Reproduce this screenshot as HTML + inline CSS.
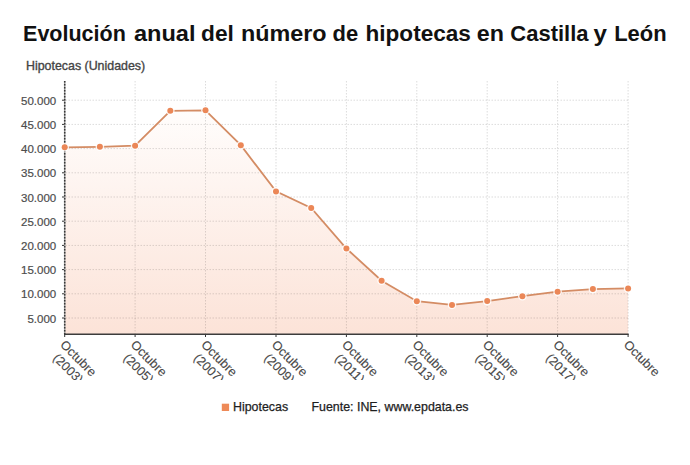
<!DOCTYPE html>
<html><head><meta charset="utf-8"><style>
html,body{margin:0;padding:0;background:#fff;}
body{width:690px;height:465px;overflow:hidden;position:relative;font-family:"Liberation Sans",Arial,sans-serif;}
svg{position:absolute;left:0;top:0;font-family:"Liberation Sans",Arial,sans-serif;}
</style></head><body>
<svg width="690" height="465" viewBox="0 0 690 465">
<defs>
<linearGradient id="g" x1="0" y1="0" x2="0" y2="1">
<stop offset="0" stop-color="#fffdfc"/>
<stop offset="1" stop-color="#fce3d8"/>
</linearGradient>
<clipPath id="lc"><rect x="0" y="335" width="690" height="45"/></clipPath>
</defs>
<g font-size="22.6" font-weight="bold" fill="#111"><text x="23.05" y="40.7" textLength="102.78" lengthAdjust="spacingAndGlyphs">Evolución</text><text x="133.9" y="40.7" textLength="61.56" lengthAdjust="spacingAndGlyphs">anual</text><text x="201.1" y="40.7" textLength="32.77" lengthAdjust="spacingAndGlyphs">del</text><text x="240.97" y="40.7" textLength="85.62" lengthAdjust="spacingAndGlyphs">número</text><text x="332.53" y="40.7" textLength="25.64" lengthAdjust="spacingAndGlyphs">de</text><text x="365.5" y="40.7" textLength="105.37" lengthAdjust="spacingAndGlyphs">hipotecas</text><text x="476.87" y="40.7" textLength="27.15" lengthAdjust="spacingAndGlyphs">en</text><text x="510.33" y="40.7" textLength="78.17" lengthAdjust="spacingAndGlyphs">Castilla</text><text x="593.5" y="40.7" textLength="13.45" lengthAdjust="spacingAndGlyphs">y</text><text x="614.23" y="40.7" textLength="52.42" lengthAdjust="spacingAndGlyphs">León</text></g>
<text x="26" y="70.1" font-size="12.4" fill="#444" stroke="#444" stroke-width="0.35">Hipotecas (Unidades)</text>
<path d="M64.7,334 L64.7,147.3 L99.9,146.8 L135.1,145.7 L170.3,110.8 L205.5,110.3 L240.8,145.2 L276.0,191.4 L311.2,208.0 L346.4,248.5 L381.6,280.7 L416.8,301.2 L452.0,304.9 L487.2,301.1 L522.4,296.2 L557.6,291.7 L592.9,289.1 L628.1,288.4 L628.1,334 Z" fill="url(#g)"/>
<g stroke="#000" stroke-opacity="0.14" stroke-width="1" stroke-dasharray="1.5,1.5" fill="none"><line x1="65.5" x2="628" y1="100.2" y2="100.2"/><line x1="65.5" x2="628" y1="124.4" y2="124.4"/><line x1="65.5" x2="628" y1="148.6" y2="148.6"/><line x1="65.5" x2="628" y1="172.8" y2="172.8"/><line x1="65.5" x2="628" y1="197.0" y2="197.0"/><line x1="65.5" x2="628" y1="221.2" y2="221.2"/><line x1="65.5" x2="628" y1="245.4" y2="245.4"/><line x1="65.5" x2="628" y1="269.6" y2="269.6"/><line x1="65.5" x2="628" y1="293.8" y2="293.8"/><line x1="65.5" x2="628" y1="318.0" y2="318.0"/><line x1="135.1" x2="135.1" y1="81" y2="334"/><line x1="205.5" x2="205.5" y1="81" y2="334"/><line x1="276.0" x2="276.0" y1="81" y2="334"/><line x1="346.4" x2="346.4" y1="81" y2="334"/><line x1="416.8" x2="416.8" y1="81" y2="334"/><line x1="487.2" x2="487.2" y1="81" y2="334"/><line x1="557.6" x2="557.6" y1="81" y2="334"/><line x1="628.1" x2="628.1" y1="81" y2="334"/></g>
<g stroke="#333" stroke-width="1"><line x1="62" x2="65" y1="100.2" y2="100.2"/><line x1="62" x2="65" y1="124.4" y2="124.4"/><line x1="62" x2="65" y1="148.6" y2="148.6"/><line x1="62" x2="65" y1="172.8" y2="172.8"/><line x1="62" x2="65" y1="197.0" y2="197.0"/><line x1="62" x2="65" y1="221.2" y2="221.2"/><line x1="62" x2="65" y1="245.4" y2="245.4"/><line x1="62" x2="65" y1="269.6" y2="269.6"/><line x1="62" x2="65" y1="293.8" y2="293.8"/><line x1="62" x2="65" y1="318.0" y2="318.0"/><line x1="64.7" x2="64.7" y1="334" y2="337"/><line x1="135.1" x2="135.1" y1="334" y2="337"/><line x1="205.5" x2="205.5" y1="334" y2="337"/><line x1="276.0" x2="276.0" y1="334" y2="337"/><line x1="346.4" x2="346.4" y1="334" y2="337"/><line x1="416.8" x2="416.8" y1="334" y2="337"/><line x1="487.2" x2="487.2" y1="334" y2="337"/><line x1="557.6" x2="557.6" y1="334" y2="337"/><line x1="628.1" x2="628.1" y1="334" y2="337"/></g>
<line x1="64.7" x2="64.7" y1="81" y2="334" stroke="#a0a0a0" stroke-width="1.5"/><line x1="64.7" x2="64.7" y1="81" y2="334" stroke="#383838" stroke-width="1.5" stroke-dasharray="1.5,1.5"/>
<line x1="64" x2="628.6" y1="334.2" y2="334.2" stroke="#3c3c3c" stroke-width="1.4"/>
<polyline points="64.7,147.3 99.9,146.8 135.1,145.7 170.3,110.8 205.5,110.3 240.8,145.2 276.0,191.4 311.2,208.0 346.4,248.5 381.6,280.7 416.8,301.2 452.0,304.9 487.2,301.1 522.4,296.2 557.6,291.7 592.9,289.1 628.1,288.4" fill="none" stroke="#d48c64" stroke-width="1.8"/>
<g fill="#eb8757"><circle cx="64.7" cy="147.3" r="4.3" fill="#fff" fill-opacity="0.85"/><circle cx="64.7" cy="147.3" r="3"/><circle cx="99.9" cy="146.8" r="4.3" fill="#fff" fill-opacity="0.85"/><circle cx="99.9" cy="146.8" r="3"/><circle cx="135.1" cy="145.7" r="4.3" fill="#fff" fill-opacity="0.85"/><circle cx="135.1" cy="145.7" r="3"/><circle cx="170.3" cy="110.8" r="4.3" fill="#fff" fill-opacity="0.85"/><circle cx="170.3" cy="110.8" r="3"/><circle cx="205.5" cy="110.3" r="4.3" fill="#fff" fill-opacity="0.85"/><circle cx="205.5" cy="110.3" r="3"/><circle cx="240.8" cy="145.2" r="4.3" fill="#fff" fill-opacity="0.85"/><circle cx="240.8" cy="145.2" r="3"/><circle cx="276.0" cy="191.4" r="4.3" fill="#fff" fill-opacity="0.85"/><circle cx="276.0" cy="191.4" r="3"/><circle cx="311.2" cy="208.0" r="4.3" fill="#fff" fill-opacity="0.85"/><circle cx="311.2" cy="208.0" r="3"/><circle cx="346.4" cy="248.5" r="4.3" fill="#fff" fill-opacity="0.85"/><circle cx="346.4" cy="248.5" r="3"/><circle cx="381.6" cy="280.7" r="4.3" fill="#fff" fill-opacity="0.85"/><circle cx="381.6" cy="280.7" r="3"/><circle cx="416.8" cy="301.2" r="4.3" fill="#fff" fill-opacity="0.85"/><circle cx="416.8" cy="301.2" r="3"/><circle cx="452.0" cy="304.9" r="4.3" fill="#fff" fill-opacity="0.85"/><circle cx="452.0" cy="304.9" r="3"/><circle cx="487.2" cy="301.1" r="4.3" fill="#fff" fill-opacity="0.85"/><circle cx="487.2" cy="301.1" r="3"/><circle cx="522.4" cy="296.2" r="4.3" fill="#fff" fill-opacity="0.85"/><circle cx="522.4" cy="296.2" r="3"/><circle cx="557.6" cy="291.7" r="4.3" fill="#fff" fill-opacity="0.85"/><circle cx="557.6" cy="291.7" r="3"/><circle cx="592.9" cy="289.1" r="4.3" fill="#fff" fill-opacity="0.85"/><circle cx="592.9" cy="289.1" r="3"/><circle cx="628.1" cy="288.4" r="4.3" fill="#fff" fill-opacity="0.85"/><circle cx="628.1" cy="288.4" r="3"/></g>
<g font-size="11.5" fill="#4d4d4d" stroke="#4d4d4d" stroke-width="0.2" text-anchor="end"><text x="56.2" y="104.8">50.000</text><text x="56.2" y="129.0">45.000</text><text x="56.2" y="153.2">40.000</text><text x="56.2" y="177.4">35.000</text><text x="56.2" y="201.6">30.000</text><text x="56.2" y="225.8">25.000</text><text x="56.2" y="250.0">20.000</text><text x="56.2" y="274.2">15.000</text><text x="56.2" y="298.4">10.000</text><text x="56.2" y="322.6">5.000</text></g>
<g clip-path="url(#lc)"><g font-size="12.6" fill="#484848" stroke="#484848" stroke-width="0.12" text-anchor="middle"><g transform="translate(62.7,343) rotate(45)"><text x="22" y="4">Octubre</text><text x="22" y="18.5">(2003)</text></g><g transform="translate(133.1,343) rotate(45)"><text x="22" y="4">Octubre</text><text x="22" y="18.5">(2005)</text></g><g transform="translate(203.5,343) rotate(45)"><text x="22" y="4">Octubre</text><text x="22" y="18.5">(2007)</text></g><g transform="translate(274.0,343) rotate(45)"><text x="22" y="4">Octubre</text><text x="22" y="18.5">(2009)</text></g><g transform="translate(344.4,343) rotate(45)"><text x="22" y="4">Octubre</text><text x="22" y="18.5">(2011)</text></g><g transform="translate(414.8,343) rotate(45)"><text x="22" y="4">Octubre</text><text x="22" y="18.5">(2013)</text></g><g transform="translate(485.2,343) rotate(45)"><text x="22" y="4">Octubre</text><text x="22" y="18.5">(2015)</text></g><g transform="translate(555.6,343) rotate(45)"><text x="22" y="4">Octubre</text><text x="22" y="18.5">(2017)</text></g><g transform="translate(626.1,343) rotate(45)"><text x="22" y="4">Octubre</text></g></g></g>
<rect x="221.8" y="403.7" width="7.3" height="7.3" fill="#ee8a58"/>
<text x="233" y="411" font-size="12.4" fill="#1e1e1e" stroke="#1e1e1e" stroke-width="0.25">Hipotecas</text>
<text x="311.5" y="411" font-size="12.4" fill="#1e1e1e" stroke="#1e1e1e" stroke-width="0.25">Fuente: INE, www.epdata.es</text>
</svg>
</body></html>
